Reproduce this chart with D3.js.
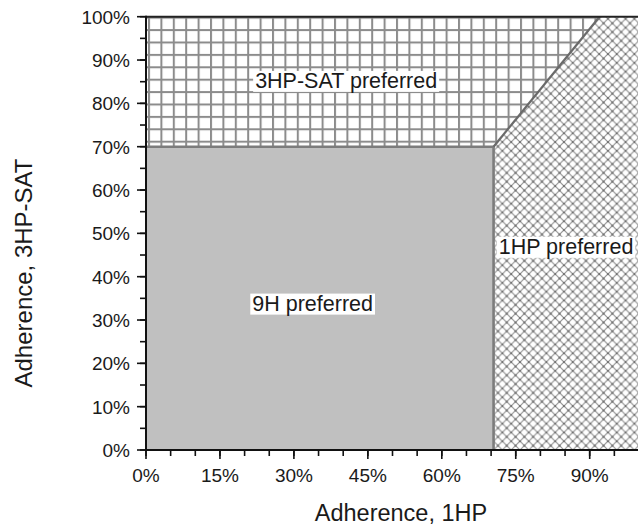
<!DOCTYPE html>
<html>
<head>
<meta charset="utf-8">
<script src="https://cdn.jsdelivr.net/npm/d3@7"></script>
<style>
  html, body { margin: 0; padding: 0; background: #fff; }
  svg { display: block; }
  text { font-family: "Liberation Sans", Arial, sans-serif; fill: #1a1a1a; }
</style>
</head>
<body>
<svg id="chart" width="638" height="526"></svg>
<script>
// ---- data ----
const xTickValues = [0, 0.15, 0.30, 0.45, 0.60, 0.75, 0.90];
const xTickLabels = ["0%", "15%", "30%", "45%", "60%", "75%", "90%"];
const yTickValues = [0, 0.1, 0.2, 0.3, 0.4, 0.5, 0.6, 0.7, 0.8, 0.9, 1.0];
const yTickLabels = ["0%", "10%", "20%", "30%", "40%", "50%", "60%", "70%", "80%", "90%", "100%"];
const minorStep = 0.05;

// decision boundaries (adherence 1HP, adherence 3HP-SAT)
const threshold1HP = 0.705;        // vertical boundary
const threshold3HP = 0.70;         // horizontal boundary
const diagonalTop1HP = 0.92;       // diagonal reaches 100% 3HP-SAT here

const regionNames = ["9H preferred", "3HP-SAT preferred", "1HP preferred"];
const regionLabelX = [0.338, 0.406, 0.852];
const regionLabelY = [0.339, 0.853, 0.47];

const xTitle = "Adherence, 1HP";
const yTitle = "Adherence, 3HP-SAT";

// ---- layout ----
const svg = d3.select("#chart");
const x = d3.scaleLinear().domain([0, 1]).range([146, 639]);
const y = d3.scaleLinear().domain([0, 1]).range([450, 16.7]);

const defs = svg.append("defs");
// square grid hatch
const gs = 12.4;
const grid = defs.append("pattern").attr("id", "grid")
  .attr("patternUnits", "userSpaceOnUse")
  .attr("x", x(0) + 2).attr("y", y(1))
  .attr("width", gs).attr("height", gs);
grid.append("rect").attr("width", gs).attr("height", gs).attr("fill", "#fff");
grid.append("rect").attr("x", 0).attr("y", 0).attr("width", 2).attr("height", gs).attr("fill", "#8c8c8c");
grid.append("rect").attr("x", 0).attr("y", 0).attr("width", gs).attr("height", 2).attr("fill", "#8c8c8c");

// diamond cross hatch
const ds = 8.8;
const diam = defs.append("pattern").attr("id", "diam")
  .attr("patternUnits", "userSpaceOnUse")
  .attr("x", x(threshold1HP)).attr("y", y(0))
  .attr("width", ds).attr("height", ds);
diam.append("rect").attr("width", ds).attr("height", ds).attr("fill", "#fff");
diam.append("line").attr("x1", 0).attr("y1", 0).attr("x2", ds).attr("y2", ds)
  .attr("stroke", "#939393").attr("stroke-width", 1.2);
diam.append("line").attr("x1", ds).attr("y1", 0).attr("x2", 0).attr("y2", ds)
  .attr("stroke", "#939393").attr("stroke-width", 1.2);
[[0,0],[ds,0],[0,ds],[ds,ds],[ds/2,ds/2]].forEach(p => {
  diam.append("circle").attr("cx", p[0]).attr("cy", p[1]).attr("r", 1.1)
    .attr("fill", "#6e6e6e");
});

const line = d3.line().x(d => x(d[0])).y(d => y(d[1]));

const polys = [
  { pts: [[0,0],[threshold1HP,0],[threshold1HP,threshold3HP],[0,threshold3HP]], fill: "#c0c0c0" },
  { pts: [[0,threshold3HP],[threshold1HP,threshold3HP],[diagonalTop1HP,1],[0,1]], fill: "url(#grid)" },
  { pts: [[threshold1HP,0],[1,0],[1,1],[diagonalTop1HP,1],[threshold1HP,threshold3HP]], fill: "url(#diam)" }
];
svg.append("g").selectAll("path").data(polys).join("path")
  .attr("d", d => line(d.pts) + "Z")
  .attr("fill", d => d.fill)
  .attr("stroke", "none");

// boundary lines
svg.append("path")
  .attr("d", line([[0, threshold3HP], [threshold1HP, threshold3HP], [threshold1HP, 0]]))
  .attr("fill", "none").attr("stroke", "#7c7c7c").attr("stroke-width", 2.6);
svg.append("path")
  .attr("d", line([[threshold1HP, threshold3HP], [diagonalTop1HP, 1]]))
  .attr("fill", "none").attr("stroke", "#6a6a6a").attr("stroke-width", 2.2);

// top frame
svg.append("line").attr("x1", x(0)).attr("x2", x(1)).attr("y1", y(1)).attr("y2", y(1))
  .attr("stroke", "#222").attr("stroke-width", 2);

// axes
const minorTicks = d3.range(0, 1.0001, minorStep);
const xAxisG = svg.append("g").attr("transform", `translate(0,${y(0)})`);
xAxisG.append("line").attr("x1", x(0) - 1).attr("x2", x(1)).attr("stroke", "#111").attr("stroke-width", 2);
xAxisG.selectAll("line.minor").data(minorTicks).join("line").attr("class", "minor")
  .attr("x1", d => x(d)).attr("x2", d => x(d)).attr("y1", 0).attr("y2", 6)
  .attr("stroke", "#111").attr("stroke-width", 1.6);
xAxisG.selectAll("line.major").data(xTickValues).join("line").attr("class", "major")
  .attr("x1", d => x(d)).attr("x2", d => x(d)).attr("y1", 0).attr("y2", 9)
  .attr("stroke", "#111").attr("stroke-width", 1.6);
xAxisG.selectAll("text").data(xTickValues).join("text")
  .attr("x", d => x(d)).attr("y", 32)
  .attr("text-anchor", "middle").attr("font-size", 19)
  .text((d, i) => xTickLabels[i]);

const yAxisG = svg.append("g").attr("transform", `translate(${x(0)},0)`);
yAxisG.append("line").attr("y1", y(0) + 1).attr("y2", y(1) - 1).attr("stroke", "#111").attr("stroke-width", 2);
yAxisG.selectAll("line.minor").data(minorTicks).join("line").attr("class", "minor")
  .attr("y1", d => y(d)).attr("y2", d => y(d)).attr("x1", 0).attr("x2", -6)
  .attr("stroke", "#111").attr("stroke-width", 1.6);
yAxisG.selectAll("line.major").data(yTickValues).join("line").attr("class", "major")
  .attr("y1", d => y(d)).attr("y2", d => y(d)).attr("x1", 0).attr("x2", -9)
  .attr("stroke", "#111").attr("stroke-width", 1.6);
yAxisG.selectAll("text").data(yTickValues).join("text")
  .attr("x", -16).attr("y", d => y(d) + 7)
  .attr("text-anchor", "end").attr("font-size", 19)
  .text((d, i) => yTickLabels[i]);

// region labels with white boxes
const labG = svg.append("g");
regionNames.forEach((name, i) => {
  const g = labG.append("g");
  const t = g.append("text")
    .attr("x", x(regionLabelX[i])).attr("y", y(regionLabelY[i]) + 7.5)
    .attr("text-anchor", "middle").attr("font-size", 21.5).attr("fill", "#111")
    .text(name);
  const bb = t.node().getBBox();
  g.insert("rect", "text")
    .attr("x", bb.x - 2).attr("y", bb.y + 2)
    .attr("width", bb.width + 4).attr("height", bb.height - 3)
    .attr("fill", "#fff");
});

// axis titles
svg.append("text").attr("x", 401).attr("y", 521)
  .attr("text-anchor", "middle").attr("font-size", 23.5).attr("fill", "#222").text(xTitle);
svg.append("text").attr("transform", "translate(32,273) rotate(-90)")
  .attr("text-anchor", "middle").attr("font-size", 24).attr("fill", "#222").text(yTitle);
</script>
</body>
</html>
